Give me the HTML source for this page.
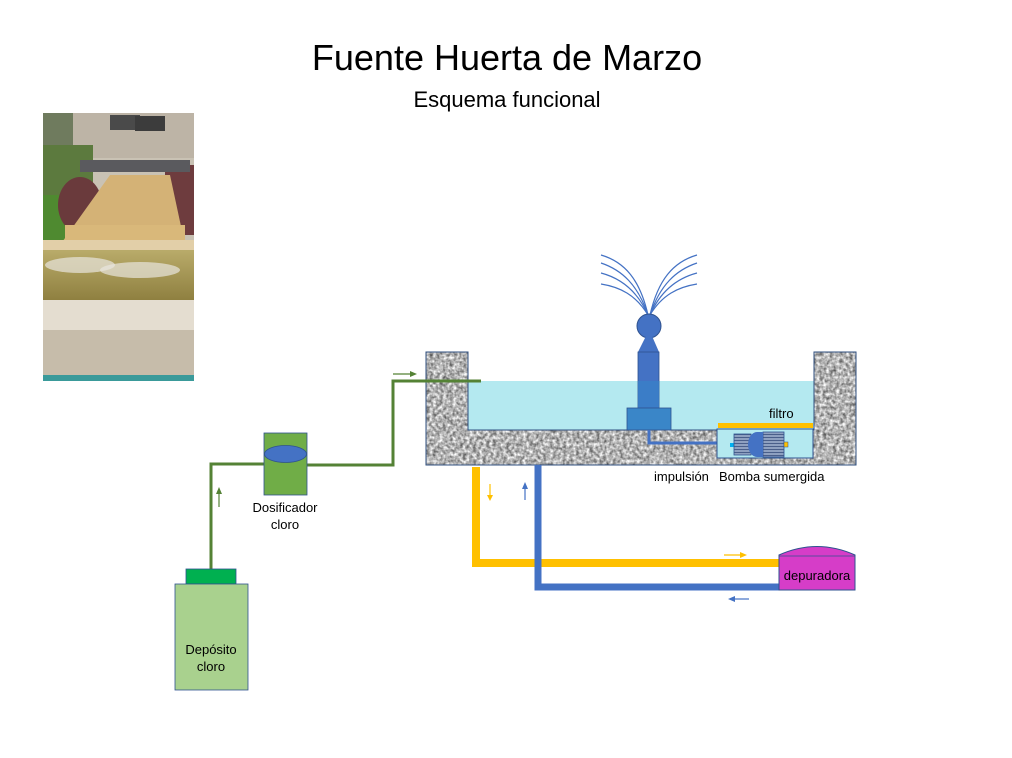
<!DOCTYPE html>
<html><head><meta charset="utf-8"><style>
html,body{margin:0;padding:0;background:#fff;}
svg{display:block;}
text{font-family:"Liberation Sans",sans-serif;}
</style></head><body>
<svg width="1012" height="758" viewBox="0 0 1012 758" xmlns="http://www.w3.org/2000/svg">
<defs>
<filter id="conc" x="0" y="0" width="100%" height="100%" color-interpolation-filters="sRGB">
<feTurbulence type="fractalNoise" baseFrequency="0.3" numOctaves="2" seed="3"/>
<feColorMatrix type="matrix" values="1.0 0 0 0 0.2  1.0 0 0 0 0.2  1.0 0 0 0 0.2  0 0 0 0 1"/>
</filter>
<pattern id="stripe" width="4" height="3" patternUnits="userSpaceOnUse"><rect width="4" height="3" fill="#8ea0c0"/><rect y="2" width="4" height="1" fill="#4a5f8a"/></pattern>
<linearGradient id="water" x1="0" y1="0" x2="0" y2="1"><stop offset="0" stop-color="#b9ab6a"/><stop offset="1" stop-color="#8f8040"/></linearGradient>
<clipPath id="bc"><path d="M426 352 H468 V430 H814 V352 H856 V465 H426 Z"/></clipPath>
</defs>

<text x="507" y="70" font-size="36" text-anchor="middle" fill="#000">Fuente Huerta de Marzo</text>
<text x="507" y="107" font-size="22" text-anchor="middle" fill="#000">Esquema funcional</text>

<!-- photo -->
<g>
<rect x="43" y="113" width="151" height="268" fill="#c9c2b4"/>
<rect x="43" y="113" width="151" height="45" fill="#bdb4a6"/>
<rect x="110" y="115" width="30" height="15" fill="#4a4a4a"/>
<rect x="135" y="116" width="30" height="15" fill="#3c3c3c"/>
<rect x="43" y="113" width="30" height="50" fill="#6f7b5e"/>
<rect x="43" y="145" width="50" height="60" fill="#5c7a3e"/>
<rect x="43" y="195" width="30" height="50" fill="#4f8a30"/>
<ellipse cx="80" cy="205" rx="22" ry="28" fill="#6a3a3c"/>
<rect x="165" y="165" width="29" height="70" fill="#6e3c3e"/>
<rect x="80" y="160" width="110" height="12" fill="#5a5a5e"/>
<polygon points="110,175 170,175 185,245 60,245" fill="#d4b276"/>
<rect x="65" y="225" width="120" height="20" fill="#d9b87a"/>
<rect x="43" y="240" width="151" height="10" fill="#e2cfa8"/>
<rect x="43" y="250" width="151" height="50" fill="url(#water)"/>
<ellipse cx="80" cy="265" rx="35" ry="8" fill="#e8e6de" opacity=".7"/>
<ellipse cx="140" cy="270" rx="40" ry="8" fill="#e8e6de" opacity=".7"/>
<rect x="43" y="300" width="151" height="30" fill="#e4ddd0"/>
<rect x="43" y="330" width="151" height="45" fill="#c6bcaa"/>
<rect x="43" y="375" width="151" height="6" fill="#3a9a9a"/>
</g>

<!-- concrete basin -->
<g clip-path="url(#bc)">
<rect x="426" y="352" width="430" height="113" fill="#aaa"/>
<rect x="426" y="352" width="430" height="113" filter="url(#conc)"/>
</g>
<path d="M426 352 H468 V430 H814 V352 H856 V465 H426 Z" fill="none" stroke="#2f4f7f" stroke-width="1"/>
<!-- water -->
<rect x="468" y="381" width="346" height="49" fill="#b4e9f0"/>
<line x1="468" y1="381" x2="468" y2="430" stroke="#2f4f7f"/>
<line x1="814" y1="381" x2="814" y2="430" stroke="#2f4f7f"/>
<line x1="468" y1="430" x2="814" y2="430" stroke="#2f4f7f"/>

<!-- fountain -->
<g fill="none" stroke="#4472c4" stroke-width="1.2">
<path d="M648 315 C640 280 625 262 601 255"/>
<path d="M648 315 C638 285 622 270 601 263"/>
<path d="M648 315 C637 290 620 278 601 273"/>
<path d="M648 315 C636 295 620 287 601 284"/>
<path d="M650 315 C658 280 673 262 697 255"/>
<path d="M650 315 C660 285 676 270 697 263"/>
<path d="M650 315 C661 290 678 278 697 273"/>
<path d="M650 315 C662 295 678 287 697 284"/>
</g>
<circle cx="649" cy="326" r="12" fill="#4472c4" stroke="#2f528f"/>
<polygon points="646,336 652,336 659,352 638,352" fill="#4472c4"/>
<rect x="638" y="352" width="21" height="56" fill="#4472c4" stroke="#2f528f" stroke-width=".8"/>
<rect x="638" y="381" width="21" height="27" fill="#3a80c8" opacity=".8"/>
<rect x="627" y="408" width="44" height="22" fill="#3a86c8" stroke="#2f528f" stroke-width=".8"/>
<!-- impulsion pipe -->
<path d="M649 430 V443 H733" fill="none" stroke="#4472c4" stroke-width="3"/>
<!-- filter -->
<rect x="717" y="429" width="96" height="29" fill="#b4e9f0" stroke="#2f528f"/>
<rect x="718" y="423" width="95" height="5" fill="#ffc000"/>
<rect x="730" y="443" width="4" height="4" fill="#00b0f0"/>
<rect x="734" y="434" width="17" height="21" fill="url(#stripe)" stroke="#2f528f" stroke-width=".8"/>
<rect x="763" y="432" width="21" height="25" fill="url(#stripe)" stroke="#2f528f" stroke-width=".8"/>
<path d="M763 432 H757 A9 12.5 0 0 0 757 457 H763 Z" fill="#4472c4"/>
<rect x="784" y="442" width="4" height="5" fill="#ffc000" stroke="#2f528f" stroke-width=".5"/>
<text x="769" y="418" font-size="13" fill="#000">filtro</text>
<text x="654" y="481" font-size="13" fill="#000">impulsión</text>
<text x="719" y="481" font-size="13" fill="#000">Bomba sumergida</text>

<!-- pipes to depuradora -->
<path d="M476 467 V563 H782" fill="none" stroke="#ffc000" stroke-width="8"/>
<path d="M538 465 V587 H798" fill="none" stroke="#4472c4" stroke-width="7"/>
<!-- depuradora -->
<path d="M779 555 Q817 538 855 555 V590 H779 Z" fill="#d63dc8" stroke="#2f528f" stroke-width="1"/>
<line x1="779" y1="556" x2="855" y2="556" stroke="#2f528f" stroke-width=".8"/>
<text x="817" y="580" font-size="13" text-anchor="middle" fill="#000">depuradora</text>
<!-- small arrows -->
<g stroke-width="1.2">
<line x1="490" y1="484" x2="490" y2="497" stroke="#ffc000"/><polygon points="487,495 493,495 490,501" fill="#ffc000"/>
<line x1="525" y1="500" x2="525" y2="487" stroke="#4472c4"/><polygon points="522,489 528,489 525,482" fill="#4472c4"/>
<line x1="724" y1="555" x2="742" y2="555" stroke="#ffc000"/><polygon points="740,552 747,555 740,558" fill="#ffc000"/>
<line x1="749" y1="599" x2="733" y2="599" stroke="#4472c4"/><polygon points="735,596 728,599 735,602" fill="#4472c4"/>
<line x1="393" y1="374" x2="411" y2="374" stroke="#548235"/><polygon points="410,371 417,374 410,377" fill="#548235"/>
<line x1="219" y1="507" x2="219" y2="493" stroke="#548235"/><polygon points="216,494 222,494 219,487" fill="#548235"/>
</g>

<!-- chlorine -->
<path d="M211 569 V464 H264" fill="none" stroke="#548235" stroke-width="3"/>
<path d="M307 465 H393 V381 H481" fill="none" stroke="#548235" stroke-width="3"/>
<rect x="264" y="433" width="43" height="62" fill="#70ad47" stroke="#2f528f" stroke-width=".8"/>
<ellipse cx="285.5" cy="454" rx="21" ry="8.5" fill="#4472c4" stroke="#2f528f" stroke-width=".8"/>
<text x="285" y="512" font-size="13" text-anchor="middle" fill="#000">Dosificador</text>
<text x="285" y="529" font-size="13" text-anchor="middle" fill="#000">cloro</text>
<rect x="186" y="569" width="50" height="15" fill="#00b050" stroke="#2f528f" stroke-width=".8"/>
<rect x="175" y="584" width="73" height="106" fill="#a9d18e" stroke="#2f528f" stroke-width=".8"/>
<text x="211" y="654" font-size="13" text-anchor="middle" fill="#000">Depósito</text>
<text x="211" y="671" font-size="13" text-anchor="middle" fill="#000">cloro</text>
</svg>
</body></html>
